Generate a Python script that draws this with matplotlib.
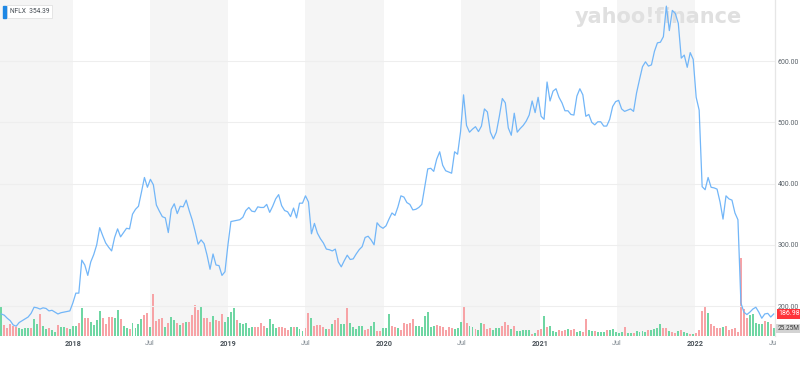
import numpy as np
import pandas as pd
import matplotlib
matplotlib.use('Agg')
import matplotlib.pyplot as plt
import matplotlib.dates as mdates
import matplotlib.transforms as mtransforms

plt.rcParams['font.family'] = ['Roboto', 'DejaVu Sans']

# weekly NFLX closes
start_week = '2017-07-17'
close = [187, 185, 180, 176, 169, 167, 173, 176, 179, 182,
         188, 198, 197, 195, 197, 196, 192, 193, 190, 187,
         189, 190, 191, 192, 205, 221, 221, 275, 267, 250,
         272, 284, 300, 328, 315, 303, 296, 290, 312, 326,
         313, 320, 327, 326, 350, 358, 363, 386, 410, 394,
         407, 398, 365, 355, 346, 344, 320, 358, 367, 351,
         363, 362, 373, 356, 341, 322, 301, 308, 302, 283,
         260, 285, 267, 266, 250, 256, 300, 338, 339, 340,
         341, 345, 356, 361, 355, 354, 362, 361, 361, 366,
         353, 363, 375, 382, 364, 356, 354, 346, 360, 344,
         368, 368, 380, 370, 318, 335, 319, 310, 303, 293,
         292, 290, 293, 272, 264, 274, 283, 276, 277, 285,
         292, 297, 312, 314, 308, 300, 336, 330, 327, 331,
         342, 352, 348, 362, 380, 378, 369, 366, 357, 358,
         361, 366, 395, 424, 425, 420, 440, 452, 430, 421,
         419, 417, 452, 448, 485, 545, 495, 484, 489, 493,
         485, 494, 522, 517, 484, 473, 484, 510, 539, 532,
         491, 479, 515, 484, 490, 495, 502, 512, 535, 516,
         541, 510, 505, 566, 535, 551, 555, 541, 532, 519,
         519, 513, 512, 543, 555, 545, 510, 513, 500, 496,
         501, 501, 494, 494, 505, 526, 534, 536, 522, 518,
         520, 522, 518, 548, 570, 591, 599, 592, 594, 616,
         630, 631, 640, 690, 650, 683, 678, 662, 605, 610,
         590, 614, 603, 541, 520, 395, 390, 410, 394, 393,
         391, 370, 342, 380, 375, 373, 352, 341, 205, 190,
         186, 190, 195, 198, 190, 180, 187, 188, 182, 187]

# weekly volume in millions
volume_m = [93, 34, 25, 37, 32, 29, 25, 21, 25, 27,
            27, 53, 37, 69, 32, 21, 27, 18, 14, 35,
            29, 29, 27, 21, 32, 32, 41, 88, 59, 59,
            46, 34, 50, 80, 59, 37, 61, 61, 57, 82,
            53, 32, 27, 21, 43, 27, 37, 53, 67, 74,
            29, 135, 48, 53, 57, 30, 41, 62, 50, 43,
            35, 43, 45, 45, 67, 99, 82, 93, 59, 59,
            45, 64, 50, 48, 69, 46, 62, 78, 91, 51,
            43, 39, 43, 27, 30, 30, 30, 41, 32, 25,
            53, 39, 25, 30, 30, 25, 18, 29, 29, 29,
            21, 16, 27, 75, 59, 32, 35, 35, 29, 21,
            21, 39, 50, 57, 39, 39, 91, 41, 29, 21,
            32, 32, 18, 23, 32, 45, 16, 16, 25, 27,
            71, 32, 29, 25, 18, 43, 39, 43, 53, 32,
            33, 29, 64, 78, 29, 32, 34, 32, 29, 19,
            29, 25, 21, 25, 45, 93, 41, 32, 29, 21,
            18, 43, 37, 21, 25, 18, 27, 27, 32, 46,
            34, 21, 32, 16, 16, 18, 18, 18, 7, 11,
            18, 21, 64, 29, 32, 16, 14, 18, 16, 18,
            21, 18, 21, 14, 16, 13, 53, 18, 16, 16,
            14, 14, 14, 18, 19, 21, 13, 11, 13, 29,
            11, 11, 8, 16, 13, 16, 14, 18, 18, 21,
            25, 37, 27, 25, 16, 14, 11, 16, 18, 14,
            11, 7, 5, 11, 18, 80, 96, 75, 37, 32,
            27, 25, 30, 32, 18, 21, 25, 14, 250, 85,
            59, 67, 69, 43, 37, 39, 48, 46, 37, 25.25]

# G = up week, R = down week
direction = ("GRRRRRGGGG" "RGGRGGRGGR" "GGRGGGRGRR" "GGGGRRRRGG" "RGGRGGGGRR"
             "GRRRRGRGGR" "GRGRRRRGRR" "RGRRRGGGGR" "GGGGGRRRRG"
             "GGGRRRRGRG" "GGRRGRRRRG" "RGRRGGRGGG" "GGRRGGRRGG" "GRRGRRRRRG"
             "GGGGGGRRRR" "RRGGGRRGGR" "GGRRRGGGRR" "RGRGGGGGRG"
             "R"
             "RGRGGGRRRG" "RRGGRRGGRG" "GGRGGGGGRG" "GRGGGGRGGG" "GRRGRRGRGG"
             "RGRRRRGRRR" "RGRRRRRRRR" "GGGGGRGRG")

ticker = 'NFLX'
legend_value = '354.39'
last_price_label = '186.98'
last_volume_label = '25.25M'

tick_dates = ['2018-01-01', '2018-07-01', '2019-01-01', '2019-07-01', '2020-01-01',
              '2020-07-01', '2021-01-01', '2021-07-01', '2022-01-01', '2022-07-01']
tick_labels = ['2018', 'Jul', '2019', 'Jul', '2020', 'Jul', '2021', 'Jul', '2022', 'Ju']
price_ticks = [200, 300, 400, 500, 600]

dates = pd.date_range(start_week, periods=len(close), freq='7D')
x = mdates.date2num(dates)

fig = plt.figure(figsize=(8, 3.72), dpi=100)
ax_vol = fig.add_axes([0, 0.0968, 0.96875, 0.9032])
ax = ax_vol.twinx()
ax.set_zorder(ax_vol.get_zorder() + 1)
ax.patch.set_visible(False)

xmin = mdates.date2num(pd.Timestamp('2017-07-14'))
xmax = mdates.date2num(pd.Timestamp('2022-07-07'))

# grey bands for second half of each year
for yr in range(2017, 2022):
    ax_vol.axvspan(mdates.date2num(pd.Timestamp(f'{yr}-07-01')),
                   mdates.date2num(pd.Timestamp(f'{yr + 1}-01-01')),
                   color='#f5f5f5', lw=0, zorder=0)

cols = ['#6fd6a3' if d == 'G' else '#f7a3a6' for d in direction]
ax_vol.bar(x, volume_m, width=4.6, color=cols, zorder=2)
ax_vol.set_ylim(0, 1075)
ax_vol.set_xlim(xmin, xmax)
ax_vol.set_yticks([])

for p in price_ticks:
    ax.axhline(p, color='#eeeeee', lw=0.8, zorder=1)
ax.plot(x, close, color='#72b6f8', lw=0.9, zorder=3)
ax.set_ylim(151, 700)
ax.set_xlim(xmin, xmax)

ax.set_yticks(price_ticks)
ax.set_yticklabels([f'{p:.2f}' for p in price_ticks])
ax.tick_params(axis='y', length=0, pad=2, labelsize=5, labelcolor='#5b636a')

ax_vol.set_xticks(mdates.date2num(pd.to_datetime(tick_dates)))
ax_vol.set_xticklabels(tick_labels)
ax_vol.tick_params(axis='x', length=0, pad=3, labelsize=5.2)
for lab in ax_vol.get_xticklabels():
    if lab.get_text().isdigit():
        lab.set_fontweight('bold')
        lab.set_color('#4a5259')
    else:
        lab.set_color('#7d868e')

for a in (ax, ax_vol):
    for s in ('top', 'left', 'bottom'):
        a.spines[s].set_visible(False)
    a.spines['right'].set_color('#e6e6e6')
    a.spines['right'].set_linewidth(0.8)

# watermark
fig.text(0.718, 0.955, 'yahoo!finance', fontsize=15, fontweight='bold',
         family='DejaVu Sans', color='#e0e0e0', ha='left', va='center', zorder=0)

# legend box
fig.text(0.012, 0.968, f'{ticker}  {legend_value}', fontsize=4.8, color='#444b52',
         ha='left', va='center',
         bbox=dict(boxstyle='square,pad=0.45', fc='white', ec='#dddddd', lw=0.5))
fig.patches.append(plt.Rectangle((0.004, 0.952), 0.003, 0.032, transform=fig.transFigure,
                                 color='#1e88e5', zorder=5))

# last price / volume tags
trans_p = mtransforms.blended_transform_factory(ax.transAxes, ax.transData)
ax.text(1.004, close[-1], last_price_label, transform=trans_p, fontsize=5, color='white',
        ha='left', va='center', clip_on=False,
        bbox=dict(boxstyle='square,pad=0.2', fc='#ff333a', ec='none'))
trans_v = mtransforms.blended_transform_factory(ax_vol.transAxes, ax_vol.transData)
ax_vol.text(1.003, 24, last_volume_label, transform=trans_v, fontsize=4.7, color='#3c3c3c',
            ha='left', va='center', clip_on=False,
            bbox=dict(boxstyle='square,pad=0.15', fc='#d3d3d3', ec='none'))

fig.savefig('out.png', dpi=100)
